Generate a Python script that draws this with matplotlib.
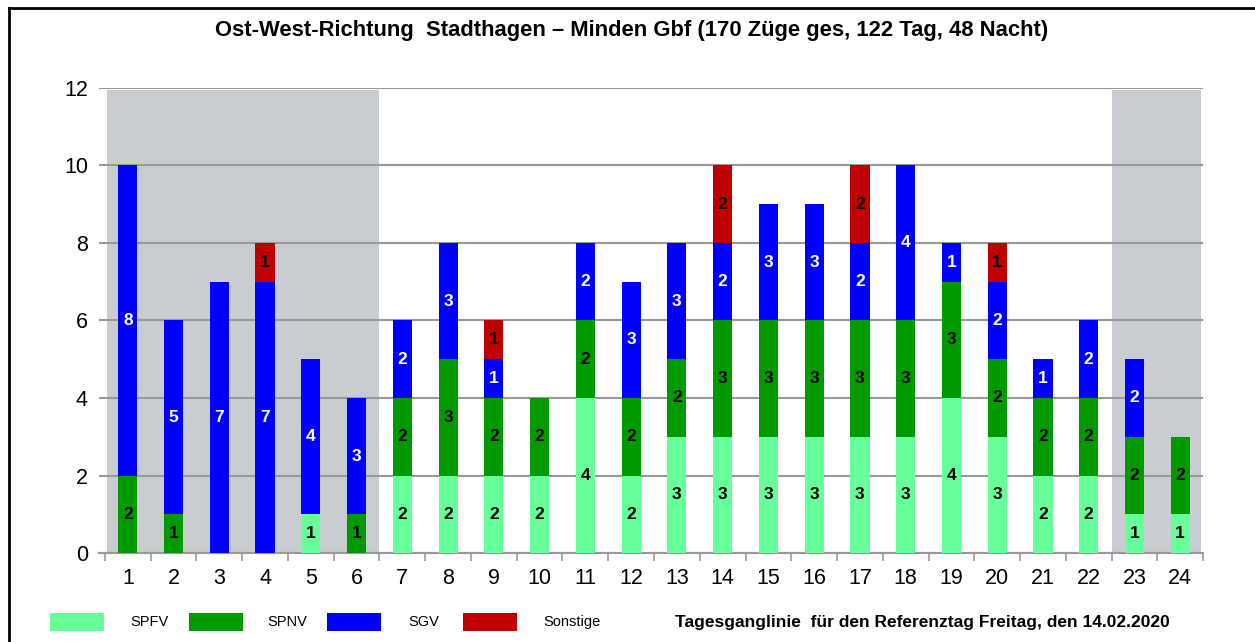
import matplotlib
matplotlib.use("Agg")
import matplotlib.pyplot as plt
import numpy as np
from matplotlib.lines import Line2D
from matplotlib.patches import Rectangle

# Zugzahlen je Stunde (Ost-West-Richtung Stadthagen - Minden Gbf)
hours = list(range(1, 25))
spfv = [0, 0, 0, 0, 1, 0, 2, 2, 2, 2, 4, 2, 3, 3, 3, 3, 3, 3, 4, 3, 2, 2, 1, 1]
spnv = [2, 1, 0, 0, 0, 1, 2, 3, 2, 2, 2, 2, 2, 3, 3, 3, 3, 3, 3, 2, 2, 2, 2, 2]
sgv = [8, 5, 7, 7, 4, 3, 2, 3, 1, 0, 2, 3, 3, 2, 3, 3, 2, 4, 1, 2, 1, 2, 2, 0]
sonstige = [0, 0, 0, 1, 0, 0, 0, 0, 1, 0, 0, 0, 0, 2, 0, 0, 2, 0, 0, 1, 0, 0, 0, 0]

series = ["SPFV", "SPNV", "SGV", "Sonstige"]
colors = ["#66FF99", "#009900", "#0000FF", "#C00000"]
label_colors = ["black", "black", "white", "black"]
night_spans = [(0.55, 6.5), (22.5, 24.45)]

FONT = ["Liberation Sans", "DejaVu Sans"]

fig = plt.figure(figsize=(12.55, 6.42), dpi=100)
ax = fig.add_axes([0.0789, 0.1386, 0.8797, 0.7244])

# night shading
for x0, x1 in night_spans:
    ax.add_patch(Rectangle((x0, 0), x1 - x0, 11.95, facecolor="#C9CDD1",
                           edgecolor="none", zorder=0))

ax.set_yticks(range(0, 13, 2))
ax.yaxis.grid(True, color="#999999", linewidth=1.5, zorder=1)
ax.set_axisbelow(True)

x = np.array(hours)
bottom = np.zeros(len(hours))
for name, vals, col, lc in zip(series, [spfv, spnv, sgv, sonstige], colors, label_colors):
    vals = np.array(vals)
    ax.bar(x, vals, 0.42, bottom=bottom, color=col, zorder=3, label=name)
    for xi, b, v in zip(x, bottom, vals):
        if v > 0:
            ax.text(xi, b + v / 2, str(v), ha="center", va="center",
                    color=lc, fontsize=12.5, fontweight="bold", family=FONT, zorder=4)
    bottom += vals

ax.set_xlim(0.37, 24.5)
ax.set_ylim(0, 12)
for s in ["left", "right", "top"]:
    ax.spines[s].set_visible(False)
ax.spines["bottom"].set_color("#999999")
ax.spines["bottom"].set_linewidth(1.5)

ax.set_xticks(x)
ax.set_xticklabels([str(h) for h in hours], family=FONT, fontsize=15.5)
ax.set_xticks(np.arange(0.5, 25, 1), minor=True)
ax.tick_params(axis="x", which="major", length=0, pad=11)
ax.tick_params(axis="x", which="minor", length=6, color="#999999", width=1.2)
ax.tick_params(axis="y", length=0, pad=8, labelsize=15.5)
for lbl in ax.get_yticklabels():
    lbl.set_family(FONT)

fig.text(0.503, 0.953, "Ost-West-Richtung  Stadthagen \u2013 Minden Gbf (170 Z\u00fcge ges, 122 Tag, 48 Nacht)",
         ha="center", va="center", fontsize=15.8, fontweight="bold", family=FONT)

# legend drawn by hand along the bottom
legend_y = 1 - 622 / 642
patch_x = [50, 189, 327, 463]
text_x = [130, 267, 408, 543]
for px, tx, name, col in zip(patch_x, text_x, series, colors):
    fig.patches.append(Rectangle((px / 1255, 1 - 631 / 642), 54 / 1255, 18 / 642,
                                 transform=fig.transFigure, facecolor=col,
                                 edgecolor="none"))
    fig.text(tx / 1255, legend_y, name, ha="left", va="center", fontsize=10.5, family=FONT)

fig.text(1170 / 1255, legend_y, "Tagesganglinie  f\u00fcr den Referenztag Freitag, den 14.02.2020",
         ha="right", va="center", fontsize=12.5, fontweight="bold", family=FONT)

# frame around the figure (open at right and bottom like the screenshot)
fig.lines.append(Line2D([9 / 1255, 9 / 1255], [0, 1 - 8 / 642], transform=fig.transFigure,
                        color="black", linewidth=2))
fig.lines.append(Line2D([9 / 1255, 1], [1 - 8 / 642, 1 - 8 / 642], transform=fig.transFigure,
                        color="black", linewidth=2))

fig.savefig("out.png", dpi=100)
